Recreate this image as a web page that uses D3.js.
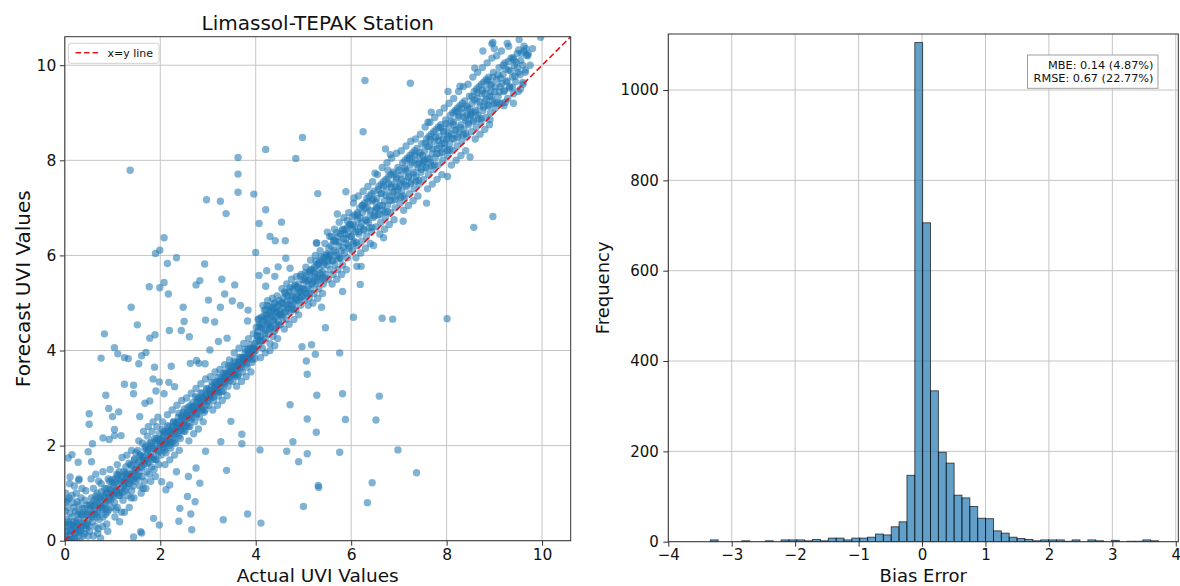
<!DOCTYPE html>
<html><head><meta charset="utf-8">
<script src="https://cdn.jsdelivr.net/npm/d3@7"></script>
<style>body{margin:0;background:#fff}svg{display:block}</style>
</head><body><svg id="c" width="1180" height="586"></svg>
<script>
// ---------------- DATA ----------------
const chartTitle = "Limassol-TEPAK Station";
const scatterTicks = [0, 2, 4, 6, 8, 10];
const histXTicks = [-4, -3, -2, -1, 0, 1, 2, 3, 4];
const histYTicks = [0, 200, 400, 600, 800, 1000];
const statsLines = ["MBE: 0.14 (4.87%)", "RMSE: 0.67 (22.77%)"];

// [actual, forecast] – scattered points
const outlierPoints = [
[1.37,7.79],[4.98,8.48],[4.21,8.23],[3.63,8.06],[4.84,8.04],[3.63,7.71],[3.63,7.33],[3.96,7.29],[2.97,7.17],[3.26,7.14],[3.38,6.88],[4.21,6.96],[5.30,7.30],[4.07,6.67],[4.54,6.70],[4.30,6.40],[4.41,6.31],[4.62,6.31],[5.28,6.26],[2.08,6.37],[1.99,6.11],[1.90,6.04],[2.34,5.95],[2.15,5.83],[2.93,5.82],[4.00,6.06],[4.63,5.94],[4.47,5.76],[4.72,5.73],[4.23,5.68],[4.07,5.58],[4.40,5.56],[2.08,5.43],[2.83,5.47],[3.29,5.50],[2.75,5.38],[1.77,5.34],[1.99,5.32],[3.56,5.38],[4.21,5.35],
[2.17,5.19],[1.39,4.91],[2.48,4.91],[1.52,4.54],[0.83,4.35],[1.78,4.26],[1.89,4.33],[1.04,4.06],[1.11,3.93],[1.25,3.85],[1.33,3.83],[0.76,3.84],[1.61,3.89],[1.70,3.96],[1.55,3.72],[1.88,3.65],[2.23,3.67],[2.19,4.42],[2.44,4.42],[2.50,4.61],[2.61,4.29],[2.95,4.64],[3.14,4.60],[3.01,5.06],[3.35,5.19],[3.51,5.04],[3.68,4.95],[3.26,4.91],[3.84,4.85],[3.83,4.62],[3.22,4.19],[3.40,4.26],[3.04,4.01],[2.81,3.73],[2.63,3.73],[2.76,3.79],[2.94,3.72],[1.25,3.29],[1.44,3.27],[1.44,3.09],[0.86,3.06],[1.85,3.40],[1.98,3.34],[2.18,3.33],[2.30,3.24],[2.08,3.09],[1.91,3.15],[0.51,2.67],[0.51,2.45],[0.92,2.78],[1.13,2.71],[1.00,2.61],[0.80,2.16],[1.04,2.34],[1.04,2.21],[1.18,2.21],[0.58,2.04],[0.07,1.74],[0.15,1.81],[0.28,1.65],[0.49,1.87],[0.56,1.66],[0.11,1.34],[0.29,1.27],[0.03,0.82],[0.93,2.13],[1.57,2.61],[1.68,2.89],[1.78,2.94],
[4.09,1.91],[4.65,1.88],[4.78,2.08],[4.90,1.66],[5.08,1.83],[4.72,2.86],[5.08,2.56],[5.27,2.28],[5.28,3.06],[5.06,3.78],[5.08,3.50],[5.17,4.12],[5.25,3.92],[4.97,4.08],[5.00,0.72],[4.11,0.37],[3.83,0.56],[3.32,0.44],[2.66,0.23],[3.48,2.51],[3.71,2.24],[3.71,2.04],[3.27,2.08],[3.39,1.48],[2.95,1.88],[2.83,1.21],[2.75,1.53],[2.59,1.35],[2.34,1.45],[2.57,0.93],[2.73,0.82],[2.41,0.68],[2.64,0.56],[2.39,0.41],[1.98,0.33],[1.86,0.47],[1.59,0.19],[1.61,0.16],[1.44,0.08],[2.12,1.07],[2.03,1.24],[2.20,1.17],[1.64,1.10],
[8.01,4.67],[6.65,4.68],[6.87,4.66],[6.05,4.70],[5.46,4.48],[5.38,4.91],[5.82,5.24],[5.76,3.95],[5.82,3.09],[6.59,3.04],[5.88,2.55],[6.52,2.54],[5.76,1.86],[6.98,1.91],[7.37,1.43],[6.44,1.22],[6.34,0.80],[5.31,1.16],[5.32,1.12],
[6.29,9.68],[7.24,9.62],[6.25,8.60],[5.89,7.34],[8.49,8.07],[8.97,6.82],[8.57,6.59],[9.97,10.59],[7.58,7.10],[6.21,5.77],[6.19,5.39]
];

// [actual, forecast] – points of the dense band along the diagonal (outer spread)
const bandPoints = [
[0.02,0.05],[0.05,0.2],[0.08,0.0],[0.1,0.35],[0.12,0.12],[0.15,0.5],[0.18,0.25],[0.2,0.05],[0.22,0.62],[0.25,0.4],[0.28,0.18],[0.3,0.75],[0.32,0.3],[0.35,0.55],[0.38,0.1],[0.4,0.42],[0.42,0.85],[0.45,0.25],[0.48,0.6],[0.5,0.45],[0.03,0.45],[0.06,0.7],[0.09,0.9],[0.14,0.02],[0.17,0.8],[0.21,0.3],[0.24,1.0],[0.27,0.55],[0.31,0.05],[0.34,0.9],[0.37,0.68],[0.41,0.15],[0.44,1.05],[0.47,0.35],[0.0,0.3],[0.01,0.62],[0.04,0.1],[0.07,0.4],[0.11,0.58],[0.13,0.22],[0.16,0.33],[0.19,0.7],[0.23,0.15],[0.26,0.82],[0.29,0.45],[0.33,0.2],[0.36,1.1],[0.39,0.32],[0.43,0.55],[0.46,0.75],[0.49,0.1],[0.02,1.0],[0.05,0.85],[0.1,1.2],[0.2,1.15],[0.3,1.3],[0.15,0.95],[0.25,0.0],
[0.52,0.2],[0.54,0.65],[0.56,0.9],[0.58,0.4],[0.6,1.1],[0.62,0.55],[0.64,0.3],[0.66,0.8],[0.68,1.0],[0.7,0.6],[0.72,0.45],[0.74,0.9],[0.76,1.2],[0.78,0.7],[0.8,0.5],[0.82,0.95],[0.84,1.1],[0.86,0.8],[0.88,0.35],[0.9,1.0],[0.92,0.65],[0.94,1.25],[0.96,0.85],[0.98,1.05],[0.55,1.3],[0.6,0.1],[0.65,1.4],[0.7,0.25],[0.75,0.05],[0.8,1.45],[0.85,0.55],[0.9,0.2],[0.95,1.5],[0.53,0.75],[0.57,0.55],[0.63,0.75],[0.67,0.5],[0.73,0.75],[0.77,0.85],[0.83,0.75],[0.87,1.0],[0.93,0.9],[0.97,0.7],[0.99,1.2],[0.61,0.85],[0.69,0.15],[0.79,0.3],[0.89,0.6],[0.91,1.3],[0.71,1.25],
[1.0,0.95],[1.02,1.15],[1.04,0.8],[1.06,1.3],[1.08,1.05],[1.1,0.7],[1.12,1.2],[1.14,1.45],[1.16,0.95],[1.18,1.1],[1.2,1.35],[1.22,0.85],[1.24,1.25],[1.26,1.05],[1.28,1.55],[1.3,1.3],[1.32,0.95],[1.34,1.4],[1.36,1.2],[1.38,1.6],[1.4,1.05],[1.42,1.45],[1.44,1.3],[1.46,1.7],[1.48,1.5],[1.05,0.5],[1.1,1.6],[1.15,0.4],[1.2,1.75],[1.25,0.6],[1.3,1.8],[1.35,0.7],[1.4,1.9],[1.45,0.9],[1.03,1.0],[1.13,0.95],[1.23,1.15],[1.33,1.2],[1.43,1.15],[1.07,0.65],[1.17,1.3],[1.27,1.4],[1.37,1.35],[1.47,1.25],[1.09,1.4],[1.19,0.6],[1.29,1.1],[1.39,0.9],[1.49,1.85],
[1.5,1.5],[1.52,1.3],[1.54,1.65],[1.56,1.45],[1.58,1.8],[1.6,1.55],[1.62,1.35],[1.64,1.75],[1.66,1.6],[1.68,1.95],[1.7,1.7],[1.72,1.45],[1.74,1.85],[1.76,1.65],[1.78,2.05],[1.8,1.8],[1.82,1.55],[1.84,1.95],[1.86,1.75],[1.88,2.15],[1.9,1.9],[1.92,1.7],[1.94,2.05],[1.96,1.85],[1.98,2.25],[1.55,2.1],[1.6,1.0],[1.65,2.3],[1.7,1.1],[1.75,2.4],[1.8,1.25],[1.85,2.5],[1.9,1.35],[1.95,2.6],[1.53,1.9],[1.63,2.05],[1.73,2.2],[1.83,2.3],[1.93,2.4],[1.57,1.15],[1.67,1.25],[1.77,1.4],[1.87,1.5],[1.97,1.6],[1.61,1.7],[1.71,1.9],[1.81,2.0],[1.91,2.1],
[2.0,2.0],[2.02,1.8],[2.04,2.15],[2.06,1.95],[2.08,2.3],[2.1,2.05],[2.12,1.85],[2.14,2.25],[2.16,2.1],[2.18,2.4],[2.2,2.2],[2.22,1.95],[2.24,2.35],[2.26,2.15],[2.28,2.5],[2.3,2.3],[2.32,2.05],[2.34,2.45],[2.36,2.25],[2.38,2.6],[2.4,2.4],[2.42,2.15],[2.44,2.55],[2.46,2.35],[2.48,2.7],[2.05,2.5],[2.15,2.65],[2.25,2.75],[2.35,2.85],[2.45,2.95],[2.1,1.6],[2.2,1.7],[2.3,1.8],[2.4,1.9],[2.03,2.1],[2.13,2.05],[2.23,2.25],[2.33,2.35],[2.43,2.4],[2.07,2.2],[2.17,2.3],[2.27,2.4],[2.37,2.5],[2.47,2.6],[2.09,1.9],[2.19,2.0],[2.29,2.1],[2.39,2.2],[2.49,2.3],
[2.5,2.5],[2.52,2.3],[2.54,2.65],[2.56,2.45],[2.58,2.8],[2.6,2.6],[2.62,2.4],[2.64,2.75],[2.66,2.55],[2.68,2.9],[2.7,2.7],[2.72,2.5],[2.74,2.85],[2.76,2.65],[2.78,3.0],[2.8,2.8],[2.82,2.6],[2.84,2.95],[2.86,2.75],[2.88,3.1],[2.9,2.9],[2.92,2.7],[2.94,3.05],[2.96,2.85],[2.98,3.2],[2.55,3.0],[2.65,3.1],[2.75,3.2],[2.85,3.3],[2.95,3.4],[2.6,2.1],[2.7,2.25],[2.8,2.35],[2.9,2.5],[2.53,2.55],[2.63,2.65],[2.73,2.75],[2.83,2.85],[2.93,2.95],[2.57,2.7],[2.67,2.8],[2.77,2.9],[2.87,3.0],[2.97,3.05],
[3.0,3.0],[3.02,2.85],[3.04,3.15],[3.06,3.0],[3.08,3.25],[3.1,3.1],[3.12,2.95],[3.14,3.25],[3.16,3.15],[3.18,3.35],[3.2,3.2],[3.22,3.05],[3.24,3.35],[3.26,3.25],[3.28,3.45],[3.3,3.3],[3.32,3.15],[3.34,3.45],[3.36,3.35],[3.38,3.55],[3.4,3.4],[3.42,3.25],[3.44,3.55],[3.46,3.45],[3.48,3.65],[3.05,3.45],[3.15,3.55],[3.25,3.6],[3.35,3.7],[3.45,3.8],[3.1,2.75],[3.2,2.85],[3.3,2.95],[3.4,3.05],[3.03,3.05],[3.13,3.2],[3.23,3.3],[3.33,3.4],[3.43,3.5],[3.07,3.1],[3.17,3.25],[3.27,3.35],[3.37,3.45],[3.47,3.55],
[3.5,3.5],[3.52,3.35],[3.54,3.65],[3.56,3.5],[3.58,3.75],[3.6,3.6],[3.62,3.45],[3.64,3.75],[3.66,3.65],[3.68,3.85],[3.7,3.7],[3.72,3.55],[3.74,3.85],[3.76,3.75],[3.78,3.95],[3.8,3.8],[3.82,3.65],[3.84,3.95],[3.86,3.85],[3.88,4.05],[3.9,3.9],[3.92,3.75],[3.94,4.05],[3.96,3.95],[3.98,4.15],[3.55,3.95],[3.65,4.05],[3.75,4.15],[3.85,4.25],[3.95,4.35],[3.6,3.25],[3.7,3.35],[3.8,3.45],[3.9,3.55],[3.53,3.55],[3.63,3.7],[3.73,3.8],[3.83,3.9],[3.93,4.0],[3.57,3.6],[3.67,3.75],[3.77,3.85],[3.87,3.95],[3.97,4.05],
[4.0,4.0],[4.02,4.2],[4.04,4.4],[4.06,4.1],[4.08,4.55],[4.1,4.3],[4.12,4.7],[4.14,4.05],[4.16,4.45],[4.18,4.85],[4.2,4.25],[4.22,4.6],[4.24,4.95],[4.26,4.35],[4.28,4.75],[4.3,4.15],[4.32,4.5],[4.34,4.9],[4.36,4.3],[4.38,4.65],[4.4,5.0],[4.42,4.45],[4.44,4.8],[4.46,4.25],[4.48,4.6],[4.05,4.65],[4.15,4.95],[4.25,5.05],[4.35,5.1],[4.45,5.15],[4.1,3.85],[4.2,3.95],[4.3,4.0],[4.4,4.1],[4.03,4.3],[4.13,4.55],[4.23,4.75],[4.33,4.7],[4.43,4.9],[4.07,4.5],[4.17,4.65],[4.27,4.55],[4.37,4.85],[4.47,4.95],[4.09,4.2],[4.19,4.35],[4.29,4.45],[4.39,4.4],[4.49,4.75],[4.21,4.85],[4.31,4.8],[4.41,4.7],
[4.5,4.85],[4.52,4.55],[4.54,5.0],[4.56,4.7],[4.58,5.1],[4.6,4.8],[4.62,5.2],[4.64,4.65],[4.66,5.05],[4.68,4.9],[4.7,5.25],[4.72,4.8],[4.74,5.15],[4.76,4.95],[4.78,5.3],[4.8,5.0],[4.82,5.35],[4.84,4.85],[4.86,5.2],[4.88,5.05],[4.9,5.4],[4.92,5.1],[4.94,4.95],[4.96,5.3],[4.98,5.15],[4.55,5.3],[4.65,5.4],[4.75,5.5],[4.85,5.55],[4.95,5.6],[4.6,4.45],[4.7,4.55],[4.8,4.65],[4.9,4.75],[4.53,4.75],[4.63,4.95],[4.73,5.05],[4.83,5.1],[4.93,5.25],
[5.0,5.3],[5.02,5.05],[5.04,5.45],[5.06,5.2],[5.08,5.6],[5.1,5.35],[5.12,5.1],[5.14,5.5],[5.16,5.3],[5.18,5.7],[5.2,5.45],[5.22,5.2],[5.24,5.6],[5.26,5.4],[5.28,5.8],[5.3,5.55],[5.32,5.3],[5.34,5.7],[5.36,5.5],[5.38,5.9],[5.4,5.65],[5.42,5.4],[5.44,5.85],[5.46,5.6],[5.48,6.0],[5.05,5.75],[5.15,5.9],[5.25,6.0],[5.35,6.1],[5.45,6.25],[5.1,4.95],[5.2,5.0],[5.3,5.1],[5.4,5.2],[5.03,5.5],[5.13,5.65],[5.23,5.75],[5.33,5.85],[5.43,5.95],[5.27,6.26],
[5.5,5.8],[5.52,5.5],[5.54,6.0],[5.56,5.7],[5.58,6.2],[5.6,5.9],[5.62,5.6],[5.64,6.1],[5.66,5.8],[5.68,6.3],[5.7,6.0],[5.72,5.7],[5.74,6.2],[5.76,5.95],[5.78,6.45],[5.8,6.1],[5.82,5.8],[5.84,6.35],[5.86,6.05],[5.88,6.55],[5.9,6.25],[5.92,5.95],[5.94,6.45],[5.96,6.15],[5.98,6.65],[5.55,6.4],[5.65,6.55],[5.75,6.7],[5.85,6.8],[5.95,6.9],[5.6,5.4],[5.7,5.5],[5.8,5.6],[5.9,5.7],[5.53,5.95],[5.63,6.3],[5.73,6.4],[5.83,6.55],[5.93,6.6],[5.50,6.49],[5.71,6.87],
[6.0,6.4],[6.02,6.1],[6.04,6.65],[6.06,6.3],[6.08,6.85],[6.1,6.5],[6.12,6.2],[6.14,6.75],[6.16,6.45],[6.18,7.0],[6.2,6.6],[6.22,6.3],[6.24,6.9],[6.26,6.55],[6.28,7.1],[6.3,6.75],[6.32,6.4],[6.34,7.0],[6.36,6.7],[6.38,7.25],[6.4,6.85],[6.42,6.5],[6.44,7.15],[6.46,6.8],[6.48,7.35],[6.05,7.1],[6.15,7.25],[6.25,7.35],[6.35,7.45],[6.45,7.55],[6.1,5.95],[6.2,6.05],[6.3,6.15],[6.4,6.25],[6.03,6.55],[6.13,6.9],[6.23,7.05],[6.33,7.2],[6.43,7.3],[6.06,7.21],[6.12,5.77],
[6.5,6.95],[6.52,6.6],[6.54,7.2],[6.56,6.85],[6.58,7.45],[6.6,7.05],[6.62,6.7],[6.64,7.3],[6.66,6.95],[6.68,7.55],[6.7,7.15],[6.72,6.8],[6.74,7.4],[6.76,7.05],[6.78,7.65],[6.8,7.25],[6.82,6.9],[6.84,7.5],[6.86,7.15],[6.88,7.75],[6.9,7.35],[6.92,7.0],[6.94,7.6],[6.96,7.25],[6.98,7.85],[6.55,7.7],[6.65,7.85],[6.75,7.95],[6.85,8.05],[6.95,8.15],[6.6,6.45],[6.7,6.55],[6.8,6.65],[6.9,6.75],[6.53,7.0],[6.63,7.5],[6.73,7.6],[6.83,7.7],[6.93,7.45],[6.72,8.24],[6.82,8.12],[6.50,7.73],[6.77,7.79],[6.47,6.21],[6.68,6.37],
[7.0,7.45],[7.02,7.1],[7.04,7.7],[7.06,7.35],[7.08,7.95],[7.1,7.55],[7.12,7.2],[7.14,7.8],[7.16,7.45],[7.18,8.05],[7.2,7.65],[7.22,7.3],[7.24,7.9],[7.26,7.55],[7.28,8.15],[7.3,7.75],[7.32,7.4],[7.34,8.0],[7.36,7.65],[7.38,8.25],[7.4,7.85],[7.42,7.5],[7.44,8.1],[7.46,7.75],[7.48,8.35],[7.05,8.2],[7.15,8.3],[7.25,8.4],[7.35,8.45],[7.45,8.55],[7.1,6.95],[7.2,7.05],[7.3,7.15],[7.4,7.25],[7.03,7.5],[7.13,8.0],[7.23,8.1],[7.33,8.2],[7.43,7.95],[7.09,6.72],
[7.5,7.95],[7.52,7.6],[7.54,8.2],[7.56,7.85],[7.58,8.45],[7.6,8.05],[7.62,7.7],[7.64,8.3],[7.66,7.95],[7.68,8.55],[7.7,8.15],[7.72,7.8],[7.74,8.4],[7.76,8.05],[7.78,8.65],[7.8,8.25],[7.82,7.9],[7.84,8.5],[7.86,8.15],[7.88,8.75],[7.9,8.35],[7.92,8.0],[7.94,8.6],[7.96,8.25],[7.98,8.85],[7.55,8.7],[7.65,8.8],[7.75,8.9],[7.85,9.0],[7.95,9.1],[7.6,7.4],[7.7,7.5],[7.8,7.6],[7.9,7.7],[7.53,8.0],[7.63,8.5],[7.73,8.6],[7.83,8.7],[7.93,8.45],[7.68,9.01],[7.61,8.80],[8.02,7.66],
[8.0,8.45],[8.02,8.1],[8.04,8.7],[8.06,8.35],[8.08,8.95],[8.1,8.55],[8.12,8.2],[8.14,8.8],[8.16,8.45],[8.18,9.05],[8.2,8.65],[8.22,8.3],[8.24,8.9],[8.26,8.55],[8.28,9.15],[8.3,8.75],[8.32,8.4],[8.34,9.0],[8.36,8.65],[8.38,9.25],[8.4,8.85],[8.42,8.5],[8.44,9.1],[8.46,8.75],[8.48,9.35],[8.05,9.2],[8.15,9.3],[8.25,9.45],[8.35,9.55],[8.45,9.6],[8.1,7.9],[8.2,8.0],[8.3,8.1],[8.4,8.2],[8.03,8.5],[8.13,9.0],[8.23,9.1],[8.33,9.2],[8.43,8.95],[8.28,9.56],[8.03,9.45],
[8.5,8.95],[8.52,8.6],[8.54,9.2],[8.56,8.85],[8.58,9.45],[8.6,9.05],[8.62,8.7],[8.64,9.3],[8.66,8.95],[8.68,9.55],[8.7,9.15],[8.72,8.8],[8.74,9.4],[8.76,9.05],[8.78,9.65],[8.8,9.25],[8.82,8.9],[8.84,9.5],[8.86,9.15],[8.88,9.75],[8.9,9.35],[8.92,9.0],[8.94,9.6],[8.96,9.25],[8.98,9.85],[8.55,9.75],[8.65,9.85],[8.75,9.95],[8.85,10.05],[8.95,10.15],[8.6,8.45],[8.7,8.55],[8.8,8.65],[8.9,8.75],[8.53,9.0],[8.63,9.5],[8.73,9.6],[8.83,9.7],[8.93,9.45],[8.59,9.94],[8.76,10.30],[8.91,8.86],
[9.0,9.45],[9.02,9.1],[9.05,9.7],[9.08,9.35],[9.1,9.95],[9.12,9.55],[9.15,9.2],[9.18,9.8],[9.2,9.45],[9.22,10.05],[9.25,9.65],[9.28,9.3],[9.3,9.9],[9.32,9.55],[9.35,10.15],[9.38,9.75],[9.4,9.4],[9.42,10.0],[9.45,9.65],[9.48,10.25],[9.5,9.85],[9.55,10.1],[9.6,9.6],[9.62,10.3],[9.65,9.9],[9.7,10.2],[9.75,10.0],[9.8,10.35],[9.05,10.2],[9.15,10.3],[9.3,10.4],[8.95,10.45],[9.0,10.35],[9.1,9.2],[9.2,9.15],[9.4,9.2],[9.5,9.45],[9.55,9.5],[8.97,10.48],[9.27,10.46],[9.52,10.54],[9.66,10.35],[9.71,10.24],[9.39,10.16],[9.60,9.64],[9.23,9.22]
];

// [actual, forecast] – core of the band (darkest part)
const bandCorePoints = [
[0.013,0.19],[0.041,0.02],[0.072,0.33],[0.098,0.01],[0.127,0.20],[0.159,0.04],[0.184,0.40],[0.216,0.16],[0.243,0.37],[0.271,0.29],[0.305,0.60],[0.331,0.23],[0.362,0.54],[0.389,0.37],[0.417,0.68],[0.446,0.32],[0.478,0.55],[0.503,0.31],[0.532,0.75],[0.564,0.50],[0.591,0.72],[0.619,0.64],[0.652,0.94],[0.678,0.58],[0.707,0.89],[0.739,0.72],[0.766,1.03],[0.794,0.66],[0.826,0.90],[0.851,0.66],[0.883,1.10],[0.912,0.85],[0.938,1.07],[0.969,0.99],[0.997,1.29],
[1.028,0.93],[1.054,1.23],[1.086,1.07],[1.113,1.37],[1.141,1.01],[1.172,1.24],[1.199,1.01],[1.231,1.45],[1.257,1.20],[1.288,1.42],[1.316,1.34],[1.344,1.63],[1.377,1.28],[1.402,1.58],[1.433,1.41],[1.461,1.72],[1.492,1.36],[1.519,1.59],[1.548,1.36],[1.579,1.80],[1.606,1.55],[1.637,1.77],[1.664,1.68],[1.696,1.99],[1.723,1.62],[1.751,1.93],[1.782,1.76],[1.809,2.07],[1.841,1.71],[1.868,1.94],[1.897,1.71],[1.928,2.15],[1.954,1.89],[1.986,2.12],
[2.013,2.03],[2.045,2.34],[2.071,1.97],[2.102,2.28],[2.131,2.11],[2.158,2.42],[2.19,2.06],[2.217,2.29],[2.246,2.06],[2.277,2.50],[2.303,2.24],[2.335,2.47],[2.362,2.38],[2.391,2.68],[2.422,2.32],[2.449,2.63],[2.478,2.46],[2.507,2.77],[2.536,2.41],[2.566,2.64],[2.593,2.40],[2.624,2.84],[2.652,2.59],[2.681,2.81],[2.709,2.73],[2.738,3.03],[2.769,2.67],[2.796,2.98],[2.827,2.81],[2.853,3.11],[2.884,2.75],[2.912,2.98],[2.941,2.75],[2.972,3.19],[2.998,2.94],
[3.029,3.16],[3.058,3.08],[3.086,3.33],[3.117,3.02],[3.144,3.32],[3.173,3.15],[3.203,3.43],[3.231,3.12],[3.26,3.33],[3.289,3.14],[3.318,3.52],[3.347,3.29],[3.375,3.51],[3.404,3.42],[3.433,3.68],[3.462,3.37],[3.491,3.67],[3.52,3.50],[3.548,3.78],[3.577,3.47],[3.606,3.68],[3.635,3.49],[3.664,3.86],[3.693,3.63],[3.721,3.85],[3.75,3.77],[3.779,4.03],[3.808,3.72],[3.837,4.02],[3.866,3.85],[3.894,4.12],[3.923,3.81],[3.952,4.02],[3.981,3.83],
[4.012,4.49],[4.038,4.32],[4.066,4.67],[4.091,4.22],[4.119,4.49],[4.146,4.20],[4.172,4.72],[4.201,4.42],[4.227,4.68],[4.254,4.56],[4.283,4.92],[4.309,4.48],[4.336,4.84],[4.362,4.63],[4.391,4.99],[4.418,4.55],[4.444,4.81],[4.472,4.52],[4.498,5.05],
[4.527,4.75],[4.553,5.00],[4.581,4.89],[4.608,5.23],[4.636,4.81],[4.662,5.16],[4.691,4.96],[4.717,5.32],[4.744,4.87],[4.772,5.14],[4.799,4.87],[4.826,5.38],[4.853,5.07],[4.881,5.33],[4.907,5.22],[4.935,5.56],[4.962,5.13],[4.989,5.49],[5.016,5.29],[5.044,5.64],[5.071,5.20],[5.098,5.47],[5.125,5.20],[5.153,5.70],[5.18,5.40],[5.207,5.66],[5.234,5.54],[5.262,5.88],[5.289,5.46],[5.316,5.82],[5.343,5.61],[5.371,5.97],[5.398,5.53],[5.425,5.80],[5.452,5.52],[5.48,6.03],
[5.507,5.88],[5.534,6.15],[5.562,6.01],[5.589,6.40],[5.616,5.88],[5.643,6.32],[5.671,6.07],[5.698,6.48],[5.725,5.93],[5.752,6.28],[5.78,5.94],[5.807,6.53],[5.834,6.17],[5.861,6.46],[5.889,6.34],[5.916,6.73],[5.943,6.20],[5.97,6.65],[5.998,6.40],
[6.025,6.81],[6.052,6.25],[6.079,6.61],[6.107,6.27],[6.134,6.85],[6.161,6.50],[6.188,6.79],[6.216,6.67],[6.243,7.05],[6.27,6.53],[6.297,6.98],[6.325,6.73],[6.352,7.13],[6.379,6.58],[6.406,6.94],[6.434,6.59],[6.461,7.18],[6.488,6.83],[6.515,7.12],[6.543,6.99],[6.57,7.38],[6.597,6.86],[6.624,7.30],[6.652,7.05],[6.679,7.46],[6.706,6.91],[6.733,7.26],[6.761,6.92],[6.788,7.51],[6.815,7.16],[6.842,7.44],[6.87,7.32],[6.897,7.71],[6.924,7.18],[6.951,7.63],[6.979,7.38],
[7.006,7.79],[7.033,7.23],[7.06,7.59],[7.088,7.25],[7.115,7.84],[7.142,7.48],[7.169,7.77],[7.197,7.65],[7.224,8.03],[7.251,7.51],[7.278,7.96],[7.306,7.71],[7.333,8.11],[7.36,7.56],[7.387,7.92],[7.415,7.58],[7.442,8.16],[7.469,7.81],[7.496,8.10],[7.524,7.97],[7.551,8.36],[7.578,7.84],[7.605,8.29],[7.633,8.03],[7.66,8.44],[7.687,7.89],[7.714,8.24],[7.742,7.90],[7.769,8.49],[7.796,8.14],[7.823,8.42],[7.851,8.30],[7.878,8.69],[7.905,8.17],[7.932,8.61],[7.96,8.36],[7.987,8.77],
[8.014,8.21],[8.041,8.57],[8.069,8.23],[8.096,8.82],[8.123,8.46],[8.15,8.75],[8.178,8.63],[8.205,9.02],[8.232,8.49],[8.259,8.94],[8.287,8.69],[8.314,9.09],[8.341,8.54],[8.368,8.90],[8.396,8.56],[8.423,9.14],[8.45,8.79],[8.477,9.08],[8.505,8.96],[8.532,9.34],[8.559,8.82],[8.586,9.27],[8.614,9.01],[8.641,9.42],[8.668,8.87],[8.695,9.23],[8.723,8.88],[8.75,9.47],[8.777,9.12],[8.804,9.40],[8.832,9.28],[8.859,9.67],[8.886,9.15],[8.913,9.59],[8.941,9.34],[8.968,9.75],[8.995,9.20],
[9.022,9.55],[9.05,9.21],[9.077,9.80],[9.104,9.44],[9.131,9.73],[9.159,9.61],[9.186,10.00],[9.213,9.47],[9.24,9.92],[9.268,9.67],[9.295,10.08],[9.322,9.52],[9.349,9.88],[9.377,9.54],[9.404,10.12],[9.431,9.77],[9.458,10.06],[9.486,9.94],[9.513,10.32],[9.54,9.80],[9.567,10.25],[9.595,10.00],[9.622,10.40],[9.649,9.85],[9.676,10.21]
];

// Histogram of bias error (forecast - actual)
const binStart = -3.338;
const binWidth = 0.124;
const binCounts = [4,0,0,0,2,0,0,2,0,4,4,4,2,5,2,8,8,4,8,8,10,17,15,33,44,147,1105,706,334,198,174,103,97,78,52,51,24,19,10,7,5,2,4,4,4,1,4,0,4,2,0,3,0,1,1,4,2];

// ---------------- DRAW ----------------
const FONT = "DejaVu Sans, sans-serif";
const svg = d3.select("#c");
svg.append("rect").attr("width",1180).attr("height",586).attr("fill","#fff");

function styleAxis(g, fs){
  g.select(".domain").remove();
  g.selectAll(".tick line").attr("stroke","#333").attr("stroke-width",1);
  g.selectAll(".tick text").attr("fill","#111").attr("font-size",fs).attr("font-family",FONT);
}

// ===== Left: scatter =====
const L = {x0:64.8, x1:570.7, y0:540.7, y1:36.7};
const xs = d3.scaleLinear().domain([0,10.6]).range([L.x0,L.x1]);
const ys = d3.scaleLinear().domain([0,10.6]).range([L.y0,L.y1]);

const defs = svg.append("defs");
defs.append("clipPath").attr("id","clipL").append("rect")
  .attr("x",L.x0).attr("y",L.y1).attr("width",L.x1-L.x0).attr("height",L.y0-L.y1);
defs.append("clipPath").attr("id","clipR").append("rect")
  .attr("x",668.3).attr("y",34).attr("width",510).attr("height",507.7);

const gridL = svg.append("g");
gridL.selectAll("line.gx").data(scatterTicks).join("line").attr("class","gx")
  .attr("x1",d=>xs(d)).attr("x2",d=>xs(d)).attr("y1",L.y0).attr("y2",L.y1)
  .attr("stroke","#c4c4c4").attr("stroke-width",1);
gridL.selectAll("line.gy").data(scatterTicks).join("line").attr("class","gy")
  .attr("y1",d=>ys(d)).attr("y2",d=>ys(d)).attr("x1",L.x0).attr("x2",L.x1)
  .attr("stroke","#c4c4c4").attr("stroke-width",1);

const allPts = bandPoints.concat(bandCorePoints, outlierPoints);
svg.append("g").attr("clip-path","url(#clipL)")
  .selectAll("circle").data(allPts).join("circle")
  .attr("cx",d=>xs(d[0])).attr("cy",d=>ys(d[1])).attr("r",3.7)
  .attr("fill","#1f77b4").attr("fill-opacity",0.57);

svg.append("line").attr("clip-path","url(#clipL)")
  .attr("x1",xs(0)).attr("y1",ys(0)).attr("x2",xs(10.6)).attr("y2",ys(10.6))
  .attr("stroke","#e8141c").attr("stroke-width",1.6).attr("stroke-dasharray","6,3");

svg.append("rect").attr("x",L.x0).attr("y",L.y1).attr("width",L.x1-L.x0).attr("height",L.y0-L.y1)
  .attr("fill","none").attr("stroke","#333").attr("stroke-width",1);

const gxL = svg.append("g").attr("transform",`translate(0,${L.y0})`)
  .call(d3.axisBottom(xs).tickValues(scatterTicks).tickSize(5).tickPadding(3));
styleAxis(gxL,15.5);
const gyL = svg.append("g").attr("transform",`translate(${L.x0},0)`)
  .call(d3.axisLeft(ys).tickValues(scatterTicks).tickSize(5).tickPadding(3.5));
styleAxis(gyL,15.5);

svg.append("text").attr("x",(L.x0+L.x1)/2).attr("y",30).attr("text-anchor","middle")
  .attr("font-family",FONT).attr("font-size",20).attr("fill","#111").text(chartTitle);
svg.append("text").attr("x",(L.x0+L.x1)/2).attr("y",581.5).attr("text-anchor","middle")
  .attr("font-family",FONT).attr("font-size",18.5).attr("fill","#111").text("Actual UVI Values");
svg.append("text").attr("transform",`translate(30,${(L.y0+L.y1)/2}) rotate(-90)`).attr("text-anchor","middle")
  .attr("font-family",FONT).attr("font-size",20).attr("fill","#111").text("Forecast UVI Values");

// legend
svg.append("rect").attr("x",68.3).attr("y",43.3).attr("width",90.7).attr("height",20).attr("rx",2.5)
  .attr("fill","#fff").attr("fill-opacity",0.85).attr("stroke","#d0d0d0").attr("stroke-width",1);
svg.append("line").attr("x1",75.5).attr("x2",98.5).attr("y1",52.7).attr("y2",52.7)
  .attr("stroke","#e8141c").attr("stroke-width",1.6).attr("stroke-dasharray","5.5,3");
svg.append("text").attr("x",107.5).attr("y",56.8).attr("font-family",FONT).attr("font-size",11)
  .attr("fill","#111").text("x=y line");

// ===== Right: histogram =====
const R = {x0:668.3, x1:1178.3, y0:541.7, y1:34};
const hx = d3.scaleLinear().domain([-4,4.04]).range([R.x0,R.x1]);
const hy = d3.scaleLinear().domain([0,1124]).range([R.y0,R.y1]);

const gridR = svg.append("g");
gridR.selectAll("line.gx").data(histXTicks).join("line").attr("class","gx")
  .attr("x1",d=>hx(d)).attr("x2",d=>hx(d)).attr("y1",R.y0).attr("y2",R.y1)
  .attr("stroke","#c4c4c4").attr("stroke-width",1);
gridR.selectAll("line.gy").data(histYTicks).join("line").attr("class","gy")
  .attr("y1",d=>hy(d)).attr("y2",d=>hy(d)).attr("x1",R.x0).attr("x2",R.x1)
  .attr("stroke","#c4c4c4").attr("stroke-width",1);

const bins = binCounts.map((c,i)=>({x0:binStart+i*binWidth, x1:binStart+(i+1)*binWidth, c}));
svg.append("g").attr("clip-path","url(#clipR)")
  .selectAll("rect").data(bins).join("rect")
  .attr("x",d=>hx(d.x0)).attr("width",d=>hx(d.x1)-hx(d.x0))
  .attr("y",d=>hy(d.c)).attr("height",d=>hy(0)-hy(d.c))
  .attr("fill","#1f77b4").attr("fill-opacity",0.7)
  .attr("stroke","#000").attr("stroke-opacity",0.7).attr("stroke-width",0.9);

svg.append("rect").attr("x",R.x0).attr("y",R.y1).attr("width",R.x1-R.x0).attr("height",R.y0-R.y1)
  .attr("fill","none").attr("stroke","#333").attr("stroke-width",1);

const gxR = svg.append("g").attr("transform",`translate(0,${R.y0})`)
  .call(d3.axisBottom(hx).tickValues(histXTicks).tickSize(5).tickPadding(3));
styleAxis(gxR,15);
const gyR = svg.append("g").attr("transform",`translate(${R.x0},0)`)
  .call(d3.axisLeft(hy).tickValues(histYTicks).tickFormat(d3.format("d")).tickSize(5).tickPadding(4.5));
styleAxis(gyR,15);

svg.append("text").attr("x",(R.x0+R.x1)/2).attr("y",581.5).attr("text-anchor","middle")
  .attr("font-family",FONT).attr("font-size",18).attr("fill","#111").text("Bias Error");
svg.append("text").attr("transform",`translate(609,${(R.y0+R.y1)/2}) rotate(-90)`).attr("text-anchor","middle")
  .attr("font-family",FONT).attr("font-size",18).attr("fill","#111").text("Frequency");

// stats box
svg.append("rect").attr("x",1027.5).attr("y",55).attr("width",130.5).attr("height",33.3)
  .attr("fill","#fff").attr("stroke","#a0a0a0").attr("stroke-width",1);
svg.append("g").selectAll("text").data(statsLines).join("text")
  .attr("x",1153.5).attr("y",(d,i)=>69+i*13).attr("text-anchor","end")
  .attr("font-family",FONT).attr("font-size",11.3).attr("fill","#111").text(d=>d);
</script></body></html>
